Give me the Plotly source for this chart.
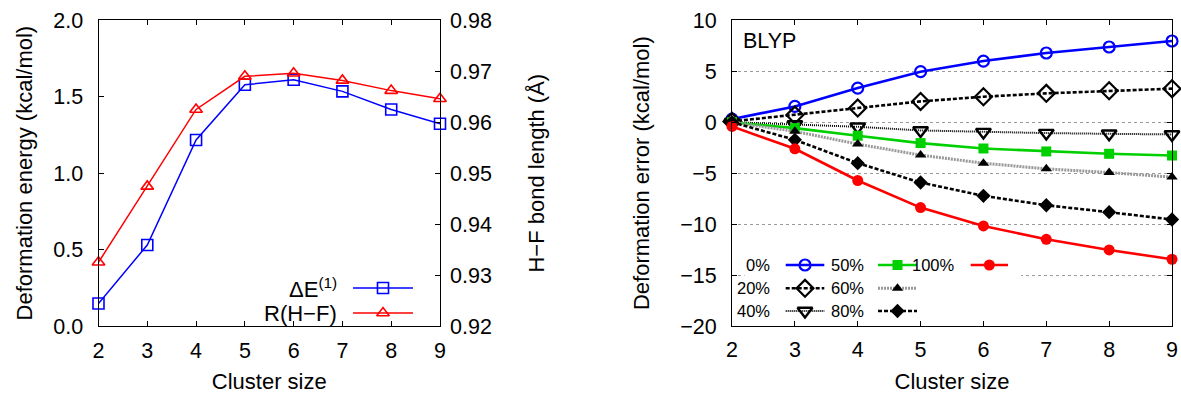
import plotly.graph_objects as go

# ---------------- data ----------------
cluster = [2, 3, 4, 5, 6, 7, 8, 9]
deform_energy = [0.147, 0.53, 1.217, 1.578, 1.611, 1.535, 1.416, 1.323]      # kcal/mol (left axis)
hf_bond = [0.9325, 0.9474, 0.9625, 0.9690, 0.9696, 0.9682, 0.9662, 0.9646]   # Å (right axis)

err_labels = ["0%", "20%", "40%", "50%", "60%", "80%", "100%"]
err_0 = [0.30, 1.55, 3.35, 4.96, 6.00, 6.79, 7.38, 7.97]
err_20 = [0.08, 0.70, 1.39, 2.04, 2.50, 2.83, 3.09, 3.29]
err_40 = [0.0, -0.22, -0.45, -0.81, -0.97, -1.07, -1.14, -1.20]
err_50 = [0.0, -0.58, -1.33, -2.05, -2.58, -2.87, -3.10, -3.27]
err_60 = [0.0, -0.90, -2.15, -3.23, -4.02, -4.58, -4.94, -5.39]
err_80 = [0.0, -1.73, -4.02, -5.92, -7.23, -8.15, -8.83, -9.55]
err_100 = [-0.42, -2.61, -5.72, -8.38, -10.18, -11.49, -12.54, -13.45]
err_series = [err_0, err_20, err_40, err_50, err_60, err_80, err_100]

# ---------------- styles ----------------
W, H = 1181, 394
FONT = "Liberation Sans, Arial, Helvetica, sans-serif"
TICK_FS = 21.5
TITLE_FS = 22

err_styles = [
    dict(color="#0000ff", width=2.6, dash="solid", symbol="circle-open", msize=11, mcolor="#0000ff", mlw=2.2),
    dict(color="#000000", width=2.6, dash="4px,2px", symbol="diamond-open", msize=13, mcolor="#000000", mlw=2.2),
    dict(color="#000000", width=2.0, dash="1px,1px", symbol="triangle-down-open", msize=13, mcolor="#000000", mlw=2.4),
    dict(color="#00d000", width=2.6, dash="solid", symbol="square", msize=10, mcolor="#00d000", mlw=0),
    dict(color="#999999", width=3.0, dash="2px,1px", symbol="triangle-up", msize=10, mcolor="#000000", mlw=0),
    dict(color="#000000", width=2.6, dash="4px,2px", symbol="diamond", msize=11, mcolor="#000000", mlw=0),
    dict(color="#ff0000", width=2.6, dash="solid", symbol="circle", msize=11, mcolor="#ff0000", mlw=0),
]

# plot-area geometry (pixels)
L_X0, L_X1 = 98.5, 440.0
R_X0, R_X1 = 732.0, 1172.0
P_TOP, P_BOT = 20.3, 326.0
ydom = [1 - P_BOT / H, 1 - P_TOP / H]

fig = go.Figure()

# ---------------- left panel ----------------
fig.add_trace(go.Scatter(
    x=cluster, y=deform_energy, xaxis="x", yaxis="y", mode="lines+markers",
    line=dict(color="#0000ff", width=1.5),
    marker=dict(symbol="square-open", size=11, color="#0000ff", line=dict(width=1.6, color="#0000ff")),
    cliponaxis=False, showlegend=False, name="ΔE(1)"))
fig.add_trace(go.Scatter(
    x=cluster, y=hf_bond, xaxis="x", yaxis="y2", mode="lines+markers",
    line=dict(color="#ff0000", width=1.5),
    marker=dict(symbol="triangle-up-open", size=11, color="#ff0000", line=dict(width=1.6, color="#ff0000")),
    cliponaxis=False, showlegend=False, name="R(H−F)"))

# ---------------- right panel ----------------
for lab, ys, st in zip(err_labels, err_series, err_styles):
    fig.add_trace(go.Scatter(
        x=cluster, y=ys, xaxis="x2", yaxis="y3", mode="lines+markers",
        line=dict(color=st["color"], width=st["width"], dash=st["dash"]),
        marker=dict(symbol=st["symbol"], size=st["msize"], color=st["mcolor"],
                    line=dict(width=st["mlw"], color=st["mcolor"])),
        cliponaxis=False, showlegend=False, name=lab))

# ---------------- hand-drawn keys (pixel overlay axes x3/y4) ----------------
annotations = []


def key_entry(text, tx, x0, x1, y, line, marker, fs):
    annotations.append(dict(text=text, x=tx, y=y, xref="x3", yref="y4", xanchor="right",
                            yanchor="middle", showarrow=False, font=dict(size=fs, family=FONT, color="black")))
    fig.add_trace(go.Scatter(x=[x0, x1], y=[y, y], xaxis="x3", yaxis="y4", mode="lines",
                             line=line, showlegend=False, hoverinfo="skip", cliponaxis=False))
    fig.add_trace(go.Scatter(x=[(x0 + x1) / 2], y=[y], xaxis="x3", yaxis="y4", mode="markers",
                             marker=marker, showlegend=False, hoverinfo="skip", cliponaxis=False))


# left key
key_entry("ΔE<sup>(1)</sup>", 339, 353, 413, 288,
          dict(color="#0000ff", width=1.5),
          dict(symbol="square-open", size=11, color="#0000ff", line=dict(width=1.6, color="#0000ff")), 22)
key_entry("R(H−F)", 339, 353, 413, 313,
          dict(color="#ff0000", width=1.5),
          dict(symbol="triangle-up-open", size=11, color="#ff0000", line=dict(width=1.6, color="#ff0000")), 22)

# right key: 3 rows, column-major
col_text = [772, 865.5, 957]
col_x0 = [785.7, 878, 970.7]
col_x1 = [824.3, 917, 1008]
row_y = [265, 288.3, 311]
for i, (lab, st) in enumerate(zip(err_labels, err_styles)):
    c, r = divmod(i, 3)
    key_entry(lab, col_text[c], col_x0[c], col_x1[c], row_y[r],
              dict(color=st["color"], width=st["width"], dash=st["dash"]),
              dict(symbol=st["symbol"], size=st["msize"], color=st["mcolor"],
                   line=dict(width=st["mlw"], color=st["mcolor"])), 16.5)

annotations.append(dict(text="BLYP", x=741, y=41, xref="x3", yref="y4", xanchor="left", yanchor="middle",
                        showarrow=False, font=dict(size=21.5, family=FONT, color="black")))

axis_common = dict(showline=True, linecolor="black", linewidth=1, ticks="inside", ticklen=5,
                   tickcolor="black", tickfont=dict(size=TICK_FS, family=FONT, color="black"),
                   zeroline=False, showgrid=False, automargin=False)

fig.update_layout(
    width=W, height=H, margin=dict(l=0, r=0, t=0, b=0),
    paper_bgcolor="white", plot_bgcolor="rgba(0,0,0,0)",
    font=dict(family=FONT, color="black"),
    showlegend=False,
    xaxis=dict(domain=[L_X0 / W, L_X1 / W], anchor="y", range=[2, 9], dtick=1, mirror="ticks",
               ticklabelstandoff=5,
               title=dict(text="Cluster size", font=dict(size=TITLE_FS, family=FONT), standoff=18),
               **axis_common),
    yaxis=dict(domain=ydom, anchor="x", range=[0, 2], dtick=0.5, tickformat=".1f", mirror=True,
               ticklabelstandoff=10,
               title=dict(text="Deformation energy (kcal/mol)", font=dict(size=TITLE_FS, family=FONT), standoff=14),
               **axis_common),
    yaxis2=dict(overlaying="y", anchor="x", side="right", range=[0.92, 0.98], dtick=0.01, tickformat=".2f",
                ticklabelstandoff=9,
                title=dict(text="H−F bond length (Å)", font=dict(size=TITLE_FS, family=FONT), standoff=37),
                **{k: v for k, v in axis_common.items() if k != "showline"}, showline=False),
    xaxis2=dict(domain=[R_X0 / W, R_X1 / W], anchor="y3", range=[2, 9], dtick=1, mirror="ticks",
                ticklabelstandoff=4,
                title=dict(text="Cluster size", font=dict(size=TITLE_FS, family=FONT), standoff=15),
                **axis_common),
    yaxis3=dict(domain=ydom, anchor="x2", range=[-20, 10], dtick=5, mirror="ticks",
                ticklabelstandoff=10,
                title=dict(text="Deformation error (kcal/mol)", font=dict(size=TITLE_FS, family=FONT), standoff=24),
                **{k: v for k, v in axis_common.items() if k != "showgrid"},
                showgrid=True, gridcolor="#9a9a9a", griddash="dot", gridwidth=1),
    xaxis3=dict(domain=[0, 1], anchor="y4", range=[0, W], visible=False, fixedrange=True),
    yaxis4=dict(domain=[0, 1], anchor="x3", range=[H, 0], visible=False, fixedrange=True),
    annotations=annotations,
    shapes=[dict(type="rect", xref="x2", yref="y3", x0=2.2, x1=6.6, y0=-19.6, y1=-12.8,
                 fillcolor="white", line=dict(width=0), layer="between")],
)

fig.write_html("out.html")
